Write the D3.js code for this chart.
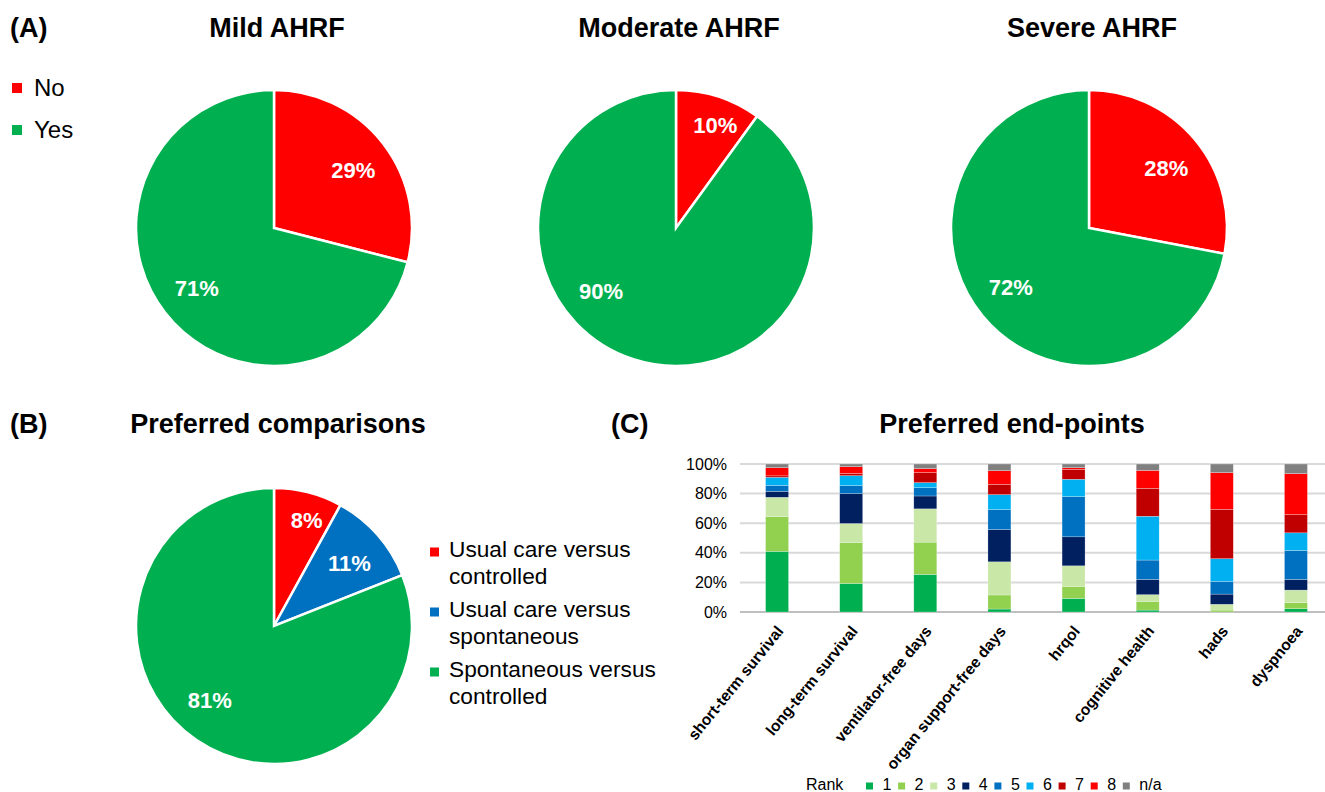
<html>
<head>
<title>AHRF survey</title>
<style>
  body { margin: 0; background: #fff; }
  text { font-family: "Liberation Sans", Arial, sans-serif; }
</style>
</head>
<body>
<div id="chart-area"></div>
<script src="https://d3js.org/d3.v7.min.js"></script>
<script>

// ---- data ----
const answerGroups = ["No", "Yes"]
const mildValues = [29, 71]
const moderateValues = [10, 90]
const severeValues = [28, 72]

const comparisonGroups = ["Usual care versus controlled", "Usual care versus spontaneous", "Spontaneous versus controlled"]
const comparisonValues = [8, 11, 81]

const endpoints = ["short-term survival", "long-term survival", "ventilator-free days", "organ support-free days",
                   "hrqol", "cognitive health", "hads", "dyspnoea"]
const ranks = ["1", "2", "3", "4", "5", "6", "7", "8", "n/a"]
// percent of respondents per rank, one value per end-point
const rank1  = [41.0, 19.3, 25.4,  2.0,  9.2,  1.3,  0.0,  2.2]
const rank2  = [23.5, 27.7, 21.8,  9.5,  8.1,  5.9,  1.3,  4.1]
const rank3  = [13.0, 12.8, 22.5, 22.4, 13.9,  4.5,  3.9,  8.5]
const rank4  = [ 4.0, 20.2,  8.7, 21.8, 19.6, 10.3,  6.9,  7.2]
const rank5  = [ 4.0,  5.4,  5.6, 13.5, 27.2, 13.1,  8.6, 19.6]
const rank6  = [ 5.5,  6.7,  3.4, 10.1, 11.7, 29.6, 15.3, 11.9]
const rank7  = [ 1.0,  1.5,  6.8,  7.0,  6.7, 18.9, 33.4, 12.3]
const rank8  = [ 5.5,  4.6,  2.7,  9.2,  1.1, 12.1, 24.8, 27.7]
const rankNA = [ 2.5,  1.8,  3.1,  4.5,  2.5,  4.3,  5.8,  6.5]
const yTicks = [0, 20, 40, 60, 80, 100]

// ---- styles ----
const RED = "#ff0000", GREEN = "#00b050", BLUE = "#0070c0"
const rankColors = ["#00b050", "#92d050", "#c9e7a7", "#002060", "#0070c0", "#00b0f0", "#c00000", "#ff0000", "#808080"]
const R = 138

const svg = d3.select("#chart-area")
    .append("svg")
        .attr("width", 1325)
        .attr("height", 792)

svg.append("rect").attr("width", 1325).attr("height", 792).attr("fill", "#fff")

// panel headers
function title(x, y, txt, anchor) {
    svg.append("text")
        .attr("x", x).attr("y", y)
        .attr("text-anchor", anchor || "middle")
        .attr("font-size", "27px")
        .attr("font-weight", "bold")
        .text(txt)
}
title(10, 37, "(A)", "start")
title(10, 433, "(B)", "start")
title(611, 433, "(C)", "start")
title(277, 37, "Mild AHRF")
title(679, 37, "Moderate AHRF")
title(1092, 37, "Severe AHRF")
title(278, 433, "Preferred comparisons")
title(1012, 433, "Preferred end-points")

// ---- pies ----
const pie = d3.pie().sort(null)
const arc = d3.arc().innerRadius(0).outerRadius(R)

function drawPie(cx, cy, values, colors, bigAngle) {
    const total = d3.sum(values)
    const g = svg.append("g").attr("transform", `translate(${cx}, ${cy})`)
    const arcs = pie(values)

    g.selectAll("path")
        .data(arcs).enter()
        .append("path")
            .attr("d", arc)
            .attr("fill", (d, i) => colors[i])
            .attr("stroke", "#fff")
            .attr("stroke-width", 2.5)

    g.selectAll("text")
        .data(arcs).enter()
        .append("text")
            .attr("transform", d => {
                const share = d.value / total
                const mid = (d.startAngle + d.endAngle) / 2
                // big slices: label sits lower-left like the excel "best fit"
                const a = share > 0.5 ? bigAngle * Math.PI / 180 : mid + (share < 0.105 ? 0.05 : 0.03)
                const r = share < 0.105 ? R * 0.8 : R * 0.71
                return `translate(${Math.sin(a) * r}, ${-Math.cos(a) * r})`
            })
            .attr("dy", "0.35em")
            .attr("text-anchor", "middle")
            .attr("font-size", "22px")
            .attr("font-weight", "bold")
            .attr("fill", "#fff")
            .text(d => Math.round(d.value / total * 100) + "%")
}

drawPie(274, 228, mildValues, [RED, GREEN], 232)
drawPie(676, 228, moderateValues, [RED, GREEN], 230)
drawPie(1089, 228, severeValues, [RED, GREEN], 233)
drawPie(274, 626, comparisonValues, [RED, BLUE, GREEN], 221)

// legend A
answerGroups.forEach((m, i) => {
    svg.append("rect")
        .attr("x", 12).attr("y", 83 + i * 42)
        .attr("width", 10).attr("height", 10)
        .attr("fill", [RED, GREEN][i])
    svg.append("text")
        .attr("x", 34).attr("y", 96 + i * 42)
        .attr("font-size", "24px")
        .text(m)
})

// legend B
comparisonGroups.forEach((m, i) => {
    const lines = m.match(/^(.* versus) (.*)$/)
    svg.append("rect")
        .attr("x", 430).attr("y", 547.5 + i * 60)
        .attr("width", 9).attr("height", 9)
        .attr("fill", [RED, BLUE, GREEN][i])
    const t = svg.append("text")
        .attr("x", 449).attr("y", 557 + i * 60)
        .attr("font-size", "22.7px")
    t.append("tspan").attr("x", 449).text(lines[1])
    t.append("tspan").attr("x", 449).attr("dy", 26.5).text(lines[2])
})

// ---- stacked bars ----
const series = [rank1, rank2, rank3, rank4, rank5, rank6, rank7, rank8, rankNA]
const table = endpoints.map((e, j) => {
    const row = { endpoint: e }
    ranks.forEach((r, k) => row[r] = series[k][j])
    return row
})
const stacked = d3.stack().keys(ranks)(table)

const x = d3.scaleBand()
    .domain(endpoints)
    .range([740, 1333])
    .paddingInner(0.69)
    .paddingOuter(0.345)

const y = d3.scaleLinear()
    .domain([0, 100])
    .range([612, 464])

// gridlines
svg.append("g")
    .selectAll("line")
    .data(yTicks).enter()
    .append("line")
        .attr("x1", 740).attr("x2", 1333)
        .attr("y1", d => y(d)).attr("y2", d => y(d))
        .attr("stroke", d => d === 0 ? "#bfbfbf" : "#d9d9d9")
        .attr("stroke-width", 2)

const yAxis = d3.axisLeft(y)
    .tickValues(yTicks)
    .tickSize(0)
    .tickPadding(0)
    .tickFormat(d => d + "%")

svg.append("g")
    .attr("transform", "translate(727, 0)")
    .call(yAxis)
    .call(g => g.select(".domain").remove())
    .selectAll("text")
        .attr("font-size", "16px")
        .attr("font-family", "'Liberation Sans', Arial, sans-serif")
        .attr("fill", "#000")

svg.append("g")
    .selectAll("g")
    .data(stacked).enter()
    .append("g")
        .attr("fill", (d, i) => rankColors[i])
    .selectAll("rect")
    .data(d => d).enter()
    .append("rect")
        .attr("x", d => x(d.data.endpoint))
        .attr("y", d => y(d[1]))
        .attr("width", x.bandwidth())
        .attr("height", d => y(d[0]) - y(d[1]))
        .attr("stroke", "rgba(255,255,255,0.5)")
        .attr("stroke-width", 0.5)

// rotated category labels
svg.append("g")
    .selectAll("text")
    .data(endpoints).enter()
    .append("text")
        .attr("transform", d => `translate(${x(d) + x.bandwidth() / 2 + 3}, 628) rotate(-51)`)
        .attr("dy", "0.35em")
        .attr("text-anchor", "end")
        .attr("font-size", "15.6px")
        .attr("font-weight", "bold")
        .text(d => d)

// legend C
svg.append("text")
    .attr("x", 806).attr("y", 790)
    .attr("font-size", "16px")
    .text("Rank")

ranks.forEach((r, i) => {
    svg.append("rect")
        .attr("x", 866 + i * 32.1).attr("y", 782.5)
        .attr("width", 7).attr("height", 7)
        .attr("fill", rankColors[i])
    svg.append("text")
        .attr("x", 882.5 + i * 32.1).attr("y", 790)
        .attr("font-size", "16px")
        .text(r)
})

</script>
</body>
</html>
